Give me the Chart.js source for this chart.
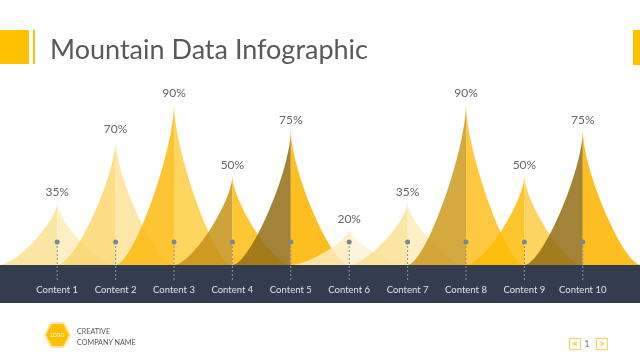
<!DOCTYPE html>
<html>
<head>
<meta charset="utf-8">
<script src="https://cdn.jsdelivr.net/npm/chart.js@4.4.1/dist/chart.umd.min.js"></script>
<style>
html, body { margin: 0; padding: 0; background: #fff; }
#wrap { position: relative; width: 640px; height: 360px; overflow: hidden; font-family: Lato, "Open Sans", sans-serif; }
#chart { position: absolute; left: 0; top: 0; }
.block { position: absolute; background: #ffc000; }
#title { position: absolute; left: 50px; top: 35px; font-size: 27px; line-height: 27px; color: #595959; white-space: nowrap; }
.hex { position: absolute; clip-path: polygon(25% 0, 75% 0, 100% 50%, 75% 100%, 25% 100%, 0 50%); }
#logoText { position: absolute; left: 46px; top: 324px; width: 23px; height: 22px; line-height: 22px; text-align: center; font-size: 5px; color: #fff; }
.company { position: absolute; left: 77px; font-size: 7.2px; line-height: 10px; color: #555; }
.nav { position: absolute; top: 338px; width: 10px; height: 10px; border: 1px solid #fdd35c; color: #ffc000; font-size: 9px; font-weight: bold; line-height: 10px; text-align: center; }
#page { position: absolute; left: 582px; top: 337px; width: 10px; text-align: center; font-size: 10px; line-height: 12px; color: #888; }
</style>
</head>
<body>
<div id="wrap">
    <canvas id="chart" width="640" height="360"></canvas>
    <div class="block" style="left:0;top:30px;width:29px;height:34px"></div>
    <div class="block" style="left:33px;top:30px;width:2px;height:34px"></div>
    <div class="block" style="left:633px;top:30px;width:7px;height:35px"></div>
    <div id="title">Mountain Data Infographic</div>

    <div class="hex" style="left:44px;top:322px;width:27px;height:26px;background:#fde8a6"></div>
    <div class="hex" style="left:46px;top:324px;width:23px;height:22px;background:#ffc000"></div>
    <div id="logoText">LOGO</div>
    <div class="company" style="top:327px">CREATIVE</div>
    <div class="company" style="top:338px">COMPANY NAME</div>

    <div class="nav" style="left:569px">&lt;</div>
    <div id="page">1</div>
    <div class="nav" style="left:596px">&gt;</div>
</div>
<script>
const categories = ["Content 1", "Content 2", "Content 3", "Content 4", "Content 5",
                    "Content 6", "Content 7", "Content 8", "Content 9", "Content 10"];
const values = [35, 70, 90, 50, 75, 20, 35, 90, 50, 75];

// left / right halves of each mountain
const leftColors = [
    "rgba(253,225,147,0.85)", "rgba(253,215,111,0.85)", "rgba(253,187,17,0.85)",
    "rgba(199,146,23,0.85)",  "rgba(147,109,21,0.85)",  "rgba(254,235,188,0.85)",
    "rgba(253,225,147,0.85)", "rgba(205,154,31,0.85)",  "rgba(254,188,6,0.85)",
    "rgba(147,109,21,0.85)"
];
const rightColors = [
    "rgba(254,236,188,0.85)", "rgba(254,227,153,0.85)", "rgba(254,206,67,0.85)",
    "rgba(253,189,13,0.85)",  "rgba(253,182,0,0.88)",   "rgba(254,242,212,0.85)",
    "rgba(254,236,188,0.85)", "rgba(254,192,30,0.85)",  "rgba(254,205,69,0.85)",
    "rgba(253,182,0,0.88)"
];

const BAND = 38;

const mountainPlugin = {
    id: "mountains",
    beforeDraw(chart) {
        const { ctx, chartArea } = chart;
        ctx.save();
        ctx.fillStyle = "#343d4e";
        ctx.fillRect(0, chartArea.bottom, chart.width, BAND);
        ctx.restore();
    },
    afterDatasetsDraw(chart) {
        const ctx = chart.ctx;
        const xs = chart.scales.x;
        const meta = chart.getDatasetMeta(0);
        const step = xs.getPixelForValue(1) - xs.getPixelForValue(0);

        ctx.save();
        meta.data.forEach((bar, i) => {
            const x = bar.x, top = bar.y, base = bar.base;
            const h = base - top;

            ctx.beginPath();
            ctx.moveTo(x - step, base);
            ctx.bezierCurveTo(x - step * 0.7, base, x, base - h * 0.7, x, top);
            ctx.lineTo(x, base);
            ctx.closePath();
            ctx.fillStyle = leftColors[i];
            ctx.fill();

            ctx.beginPath();
            ctx.moveTo(x + step, base);
            ctx.bezierCurveTo(x + step * 0.7, base, x, base - h * 0.7, x, top);
            ctx.lineTo(x, base);
            ctx.closePath();
            ctx.fillStyle = rightColors[i];
            ctx.fill();
        });

        // markers + value labels
        meta.data.forEach((bar, i) => {
            const x = bar.x, base = bar.base;
            ctx.strokeStyle = "#8b909a";
            ctx.lineWidth = 1;
            ctx.setLineDash([2, 2]);
            ctx.beginPath();
            ctx.moveTo(x, base - 23);
            ctx.lineTo(x, base + 15);
            ctx.stroke();
            ctx.setLineDash([]);

            ctx.fillStyle = "#7f8591";
            ctx.beginPath();
            ctx.arc(x, base - 23, 2.5, 0, Math.PI * 2);
            ctx.fill();

            ctx.fillStyle = "#666";
            ctx.font = "12px Lato";
            ctx.textAlign = "center";
            ctx.textBaseline = "middle";
            ctx.fillText(values[i] + "%", x, bar.y - 10);
        });
        ctx.restore();
    }
};

new Chart(document.getElementById("chart"), {
    type: "bar",
    data: {
        labels: categories,
        datasets: [{
            data: values,
            backgroundColor: "rgba(0,0,0,0)",
            borderWidth: 0
        }]
    },
    options: {
        responsive: false,
        animation: false,
        events: [],
        layout: { padding: { left: 28, right: 28, top: 85, bottom: 57 } },
        plugins: {
            legend: { display: false },
            tooltip: { enabled: false }
        },
        scales: {
            x: {
                grid: { display: false, drawTicks: false },
                border: { display: false },
                ticks: {
                    color: "#dfe3ea",
                    font: { family: "Lato", size: 9.5 },
                    padding: 19,
                    maxRotation: 0,
                    autoSkip: false
                },
                afterFit: s => { s.height = BAND; }
            },
            y: { display: false, min: 0, max: 100 }
        }
    },
    plugins: [mountainPlugin]
});
</script>
</body>
</html>
